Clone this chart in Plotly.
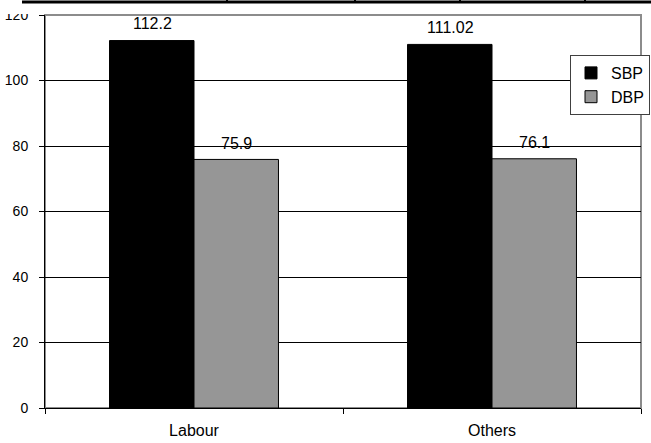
import plotly.graph_objects as go

categories = ["Labour", "Others"]
sbp = [112.2, 111.02]
dbp = [75.9, 76.1]
sbp_labels = ["112.2", "111.02"]
dbp_labels = ["75.9", "76.1"]
y_ticks = [0, 20, 40, 60, 80, 100, 120]

FONT = "Liberation Sans, Arial, sans-serif"
W, H = 651, 443
ML, MR, MT, MB = 45, 10, 15, 35
PW, PH = W - ML - MR, H - MT - MB

def px(x):
    return (x - ML) / PW

def py(y):
    return (H - MB - y) / PH

fig = go.Figure()
fig.add_trace(go.Bar(name="SBP", x=categories, y=sbp, marker=dict(color="#000000", line=dict(color="#000000", width=1)), legendgroup="a"))
fig.add_trace(go.Bar(name="DBP", x=categories, y=dbp, marker=dict(color="#969696", line=dict(color="#000000", width=1)), legendgroup="b"))

annotations = []
for c, v, t in zip(categories, sbp, sbp_labels):
    annotations.append(dict(x=c, y=v, text=t, showarrow=False, xshift=-42, yshift=17,
                            yanchor="middle", font=dict(family=FONT, size=16, color="#000")))
for c, v, t in zip(categories, dbp, dbp_labels):
    annotations.append(dict(x=c, y=v, text=t, showarrow=False, xshift=42, yshift=16,
                            yanchor="middle", font=dict(family=FONT, size=16, color="#000")))

shapes = [
    # grey plot border (top / right)
    dict(type="rect", xref="paper", yref="paper", x0=0, y0=0, x1=1, y1=1,
         line=dict(color="#8c8c8c", width=2), layer="below"),
    # table border remnant at the top of the image
    dict(type="line", xref="paper", yref="paper", x0=px(22), x1=px(651), y0=py(2), y1=py(2),
         line=dict(color="#000", width=3), layer="above"),
    # white strip clipping the top of the "120" label
    dict(type="rect", xref="paper", yref="paper", x0=px(0), x1=px(39), y0=py(14), y1=py(4),
         fillcolor="#ffffff", line=dict(width=0), layer="above"),
]
for xv in [227, 355, 460, 585]:
    shapes.append(dict(type="line", xref="paper", yref="paper", x0=px(xv), x1=px(xv), y0=py(0), y1=py(3),
                       line=dict(color="#000", width=2), layer="above"))

fig.update_layout(
    width=W, height=H,
    margin=dict(l=ML, r=MR, t=MT, b=MB, autoexpand=False),
    paper_bgcolor="#ffffff", plot_bgcolor="#ffffff",
    barmode="group", bargap=0.433, bargroupgap=0,
    font=dict(family=FONT, size=13, color="#000"),
    showlegend=True,
    legend=dict(x=px(570), y=py(55), xanchor="left", yanchor="top",
                bgcolor="#ffffff", bordercolor="#404040", borderwidth=1,
                font=dict(family=FONT, size=16, color="#000"),
                tracegroupgap=14, traceorder="normal"),
    annotations=annotations,
    shapes=shapes,
)
fig.update_xaxes(type="category", showgrid=False, showline=True, linecolor="#000", linewidth=1,
                 ticks="outside", tickson="boundaries", ticklen=5, tickcolor="#000",
                 ticklabelstandoff=8,
                 tickfont=dict(family=FONT, size=16, color="#000"))
fig.update_yaxes(range=[0, 120], tickvals=y_ticks, showgrid=True, gridcolor="#000", gridwidth=1,
                 showline=True, linecolor="#000", linewidth=1, zeroline=False,
                 ticks="outside", ticklen=5, tickcolor="#000",
                 ticklabelstandoff=8,
                 tickfont=dict(family=FONT, size=14, color="#000"))

fig.write_html("out.html")
